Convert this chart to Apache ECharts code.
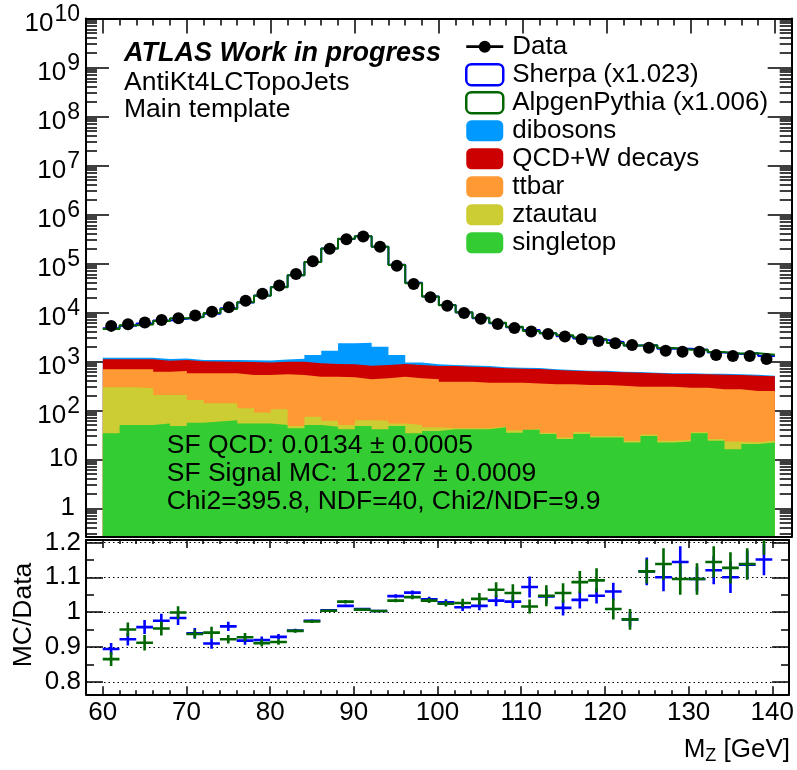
<!DOCTYPE html>
<html>
<head>
<meta charset="utf-8">
<script src="https://cdn.jsdelivr.net/npm/echarts@6/dist/echarts.min.js"></script>
<style>
  html, body { margin: 0; padding: 0; background: #fff; }
  #chart { width: 797px; height: 770px; }
</style>
</head>
<body>
<div id="chart"></div>
<script>
// Z -> ll invariant mass, 2 GeV bins from 60 to 140 GeV
const binCenters = [61, 63, 65, 67, 69, 71, 73, 75, 77, 79, 81, 83, 85, 87, 89, 91, 93, 95, 97, 99,
  101, 103, 105, 107, 109, 111, 113, 115, 117, 119, 121, 123, 125, 127, 129, 131, 133, 135, 137, 139];

// Observed events per bin
const dataCounts = [5300, 5750, 6200, 6980, 7570, 8600, 10300, 12700, 17300, 24000, 35500, 60800, 110000, 200000,
  310000, 355000, 219000, 89800, 37900, 20300, 13700, 9750, 7450, 5790, 4800, 4080, 3600, 3220, 2820, 2600,
  2340, 2160, 1900, 1650, 1575, 1575, 1349, 1287, 1287, 1117];

// Background processes (events per bin), stacked bottom to top
const singletop = [34, 50, 50, 54, 48, 56, 59, 63, 54, 54, 50, 43, 50, 46, 41, 48, 41, 48, 34, 38,
  41, 41, 41, 45, 35, 40, 33, 26, 33, 28, 28, 22, 30, 22, 23, 34, 24, 16, 20.5, 22];
const ztautau = [261, 245, 231, 152, 158, 107, 80, 76, 56, 36, 55, 5, 24, 15, 9, 15, 20, 6, 16, 7,
  2, 2, 2, 2, 4, 2, 2, 2, 3, 2, 2, 2, 2, 2, 2, 2, 2, 7, 2, 2];
const ttbar = [392, 392, 406, 410, 430, 407, 431, 431, 417, 437, 438, 479, 413, 426, 422, 367, 390, 433, 401, 385,
  342, 342, 324, 320, 328, 313, 305, 312, 293, 299, 288, 280, 272, 280, 265, 254, 243, 246, 225, 224];
const qcdW = [412, 412, 412, 417, 430, 431, 420, 415, 443, 423, 442, 459, 425, 396, 397, 387, 392, 396, 392, 374,
  419, 394, 393, 354, 343, 343, 326, 306, 297, 287, 279, 284, 266, 248, 262, 253, 266, 258, 262, 249];
const dibosons = [90, 85, 80, 80, 75, 70, 75, 80, 85, 90, 110, 150, 440, 770, 1460, 1590, 1150, 470, 100, 65,
  39, 40, 40, 36, 34, 34, 21, 20, 20, 30, 19, 18, 18, 18, 18, 18, 26, 16, 25, 13];

// MC / Data ratios and their uncertainties
const ratioSherpa = [0.894, 0.922, 0.957, 0.975, 0.983, 0.939, 0.910, 0.959, 0.918, 0.920, 0.929, 0.947, 0.975, 1.005,
  1.018, 1.009, 1.003, 1.046, 1.056, 1.037, 1.028, 1.014, 1.018, 1.033, 1.030, 1.072, 1.045, 1.012, 1.035, 1.047,
  1.059, 0.979, 1.117, 1.100, 1.144, 1.095, 1.120, 1.100, 1.136, 1.151];
const errSherpa = [0.017, 0.018, 0.020, 0.020, 0.020, 0.015, 0.015, 0.013, 0.012, 0.010, 0.008, 0.005, 0.004, 0.003,
  0.003, 0.003, 0.003, 0.005, 0.006, 0.007, 0.009, 0.011, 0.013, 0.016, 0.018, 0.030, 0.020, 0.022, 0.025, 0.022,
  0.025, 0.020, 0.040, 0.040, 0.045, 0.035, 0.040, 0.045, 0.040, 0.045];
const ratioAlpgen = [0.865, 0.950, 0.912, 0.953, 0.999, 0.937, 0.941, 0.922, 0.928, 0.911, 0.914, 0.946, 0.973, 1.004,
  1.030, 1.007, 1.003, 1.033, 1.043, 1.033, 1.024, 1.026, 1.038, 1.064, 1.055, 1.016, 1.047, 1.055, 1.086, 1.091,
  1.009, 0.979, 1.117, 1.138, 1.095, 1.095, 1.144, 1.127, 1.138, 1.215];
const errAlpgen = [0.020, 0.020, 0.022, 0.020, 0.018, 0.013, 0.017, 0.012, 0.012, 0.010, 0.008, 0.005, 0.004, 0.003,
  0.005, 0.003, 0.003, 0.005, 0.006, 0.007, 0.008, 0.012, 0.017, 0.022, 0.025, 0.020, 0.030, 0.028, 0.032, 0.035,
  0.030, 0.030, 0.035, 0.045, 0.045, 0.045, 0.045, 0.045, 0.045, 0.050];

// Axis tick labels
const massTicks = [60, 70, 80, 90, 100, 110, 120, 130, 140];
const logTicks = [1, 10, 1e2, 1e3, 1e4, 1e5, 1e6, 1e7, 1e8, 1e9, 1e10];
const ratioTicks = [0.8, 0.9, 1, 1.1, 1.2];
const ratioMinorTicks = [0.85, 0.95, 1.05, 1.15];

const FONT = '"Liberation Sans", Arial, Helvetica, sans-serif';
const HALF_BIN = 1;
const X_MIN = 58, X_MAX = 142;
const Y_MIN = 0.263, Y_MAX = 1e10;
const R_MIN = 0.764, R_MAX = 1.207;

const COLORS = {
  singletop: '#33cc33', ztautau: '#cccc33', ttbar: '#ff9933', qcd: '#cc0000', dibosons: '#0099ff',
  sherpa: '#0000ff', alpgen: '#006600'
};

// histogram outline as step points over bin edges
function stepPoints(values) {
  const pts = [];
  values.forEach((v, i) => {
    pts.push([binCenters[i] - HALF_BIN, v]);
    pts.push([binCenters[i] + HALF_BIN, v]);
  });
  return pts;
}

// cumulative stack heights
const layers = [singletop, ztautau, ttbar, qcdW, dibosons];
const cumulative = [];
layers.forEach((layer, k) => {
  cumulative.push(layer.map((v, i) => v + (k ? cumulative[k - 1][i] : 0)));
});

const mcSherpa = dataCounts.map((d, i) => d * ratioSherpa[i]);
const mcAlpgen = dataCounts.map((d, i) => d * ratioAlpgen[i]);

// minor tick positions
const massMinor = [];
for (let m = 60; m <= 140; m += 2) massMinor.push(m);
const logMinor = [];
for (let n = -1; n <= 9; n++) {
  for (let m = 2; m <= 9; m++) {
    const v = m * Math.pow(10, n);
    if (v > Y_MIN && v < Y_MAX) logMinor.push(v);
  }
}

const tickStyle = { color: '#000', width: 1.5 };
const lineStyle = { color: '#000', width: 2 };

function xAx(grid, position, ticks, len, showLine, extra) {
  return Object.assign({
    type: 'value', gridIndex: grid, position: position, min: X_MIN, max: X_MAX,
    axisLine: { show: showLine, onZero: false, lineStyle: lineStyle },
    axisTick: { show: !!ticks, inside: true, length: len, customValues: ticks || undefined, lineStyle: tickStyle },
    axisLabel: { show: false },
    splitLine: { show: false }
  }, extra || {});
}
function yAx(grid, type, position, min, max, ticks, len, showLine, extra) {
  return Object.assign({
    type: type, gridIndex: grid, position: position, min: min, max: max,
    axisLine: { show: showLine, onZero: false, lineStyle: lineStyle },
    axisTick: { show: true, inside: true, length: len, customValues: ticks, lineStyle: tickStyle },
    axisLabel: { show: false },
    splitLine: { show: false }
  }, extra || {});
}

const xAxes = [
  // upper pad
  xAx(0, 'bottom', null, 0, true, { z: 5 }),
  xAx(0, 'top', massTicks, 15, true),
  xAx(0, 'top', massMinor, 7, false),
  // ratio pad
  xAx(1, 'bottom', massTicks, 8, true, {
    axisLabel: {
      show: true, customValues: massTicks, margin: 6, fontSize: 26, fontFamily: FONT, color: '#000'
    }
  }),
  xAx(1, 'bottom', massMinor, 4, false),
  xAx(1, 'top', massTicks, 8, true),
  xAx(1, 'top', massMinor, 4, false)
];

const yAxes = [
  // upper pad, logarithmic
  yAx(0, 'log', 'left', Y_MIN, Y_MAX, logTicks, 23, true, {
    axisLabel: {
      show: true, customValues: logTicks, margin: 6, fontFamily: FONT, color: '#000', fontSize: 26,
      formatter: function (v) {
        const n = Math.round(Math.log10(v));
        if (n === 0) return '{p|1}';
        if (n === 1) return '{q|10}';
        return '{b|10}{e|' + n + '}';
      },
      rich: {
        p: { fontSize: 26, fontFamily: FONT, color: '#000', padding: [0, 5, 0, 0] },
        q: { fontSize: 26, fontFamily: FONT, color: '#000', padding: [0, 2, 0, 0] },
        b: { fontSize: 26, fontFamily: FONT, color: '#000', padding: [10, 0, 0, 0] },
        e: { fontSize: 23, fontFamily: FONT, color: '#000', padding: [0, 0, 7, 1] }
      }
    }
  }),
  yAx(0, 'log', 'left', Y_MIN, Y_MAX, logMinor, 11, false),
  yAx(0, 'log', 'right', Y_MIN, Y_MAX, logTicks, 24, true),
  yAx(0, 'log', 'right', Y_MIN, Y_MAX, logMinor, 12, false),
  // ratio pad
  yAx(1, 'value', 'left', R_MIN, R_MAX, ratioTicks, 17, true, {
    axisLabel: {
      show: true, customValues: ratioTicks, margin: 5, fontSize: 26, fontFamily: FONT, color: '#000',
      formatter: v => String(+(+v).toFixed(2))
    },
    splitLine: { show: true, lineStyle: { color: '#000', width: 1, type: [1.5, 3] } }
  }),
  yAx(1, 'value', 'left', R_MIN, R_MAX, ratioMinorTicks, 8, false),
  yAx(1, 'value', 'right', R_MIN, R_MAX, ratioTicks, 17, true),
  yAx(1, 'value', 'right', R_MIN, R_MAX, ratioMinorTicks, 8, false)
];

// stacked backgrounds: each area covers everything below its cumulative top
const stackNames = ['singletop', 'ztautau', 'ttbar', 'QCD+W decays', 'dibosons'];
const stackColors = [COLORS.singletop, COLORS.ztautau, COLORS.ttbar, COLORS.qcd, COLORS.dibosons];
const stackSeries = [];
for (let k = layers.length - 1; k >= 0; k--) {
  stackSeries.push({
    name: stackNames[k], type: 'line', xAxisIndex: 0, yAxisIndex: 0,
    data: stepPoints(cumulative[k]), showSymbol: false, symbol: 'none', silent: true,
    color: stackColors[k],
    lineStyle: { width: 0, color: stackColors[k] },
    areaStyle: { color: stackColors[k], opacity: 1, origin: 'start' },
    z: 1
  });
}

function crossSeries(name, ratio, err, color, z) {
  return {
    name: name + ' ratio', type: 'custom', xAxisIndex: 3, yAxisIndex: 4, clip: true, silent: true, z: z,
    data: binCenters.map((c, i) => [c, ratio[i], err[i]]),
    renderItem: function (params, api) {
      const x = api.value(0), r = api.value(1), e = api.value(2);
      const pl = api.coord([x - HALF_BIN, r]), pr = api.coord([x + HALF_BIN, r]);
      const pt = api.coord([x, r + e]), pb = api.coord([x, r - e]);
      const st = { stroke: color, lineWidth: 2.6 };
      return {
        type: 'group', children: [
          { type: 'line', shape: { x1: pl[0], y1: pl[1], x2: pr[0], y2: pr[1] }, style: st },
          { type: 'line', shape: { x1: pt[0], y1: pt[1], x2: pb[0], y2: pb[1] }, style: st }
        ]
      };
    }
  };
}

const series = stackSeries.concat([
  {
    name: 'Sherpa (x1.023)', type: 'line', xAxisIndex: 0, yAxisIndex: 0, data: stepPoints(mcSherpa),
    showSymbol: false, symbol: 'none', color: COLORS.sherpa, lineStyle: { width: 2, color: COLORS.sherpa }, z: 3
  },
  {
    name: 'AlpgenPythia (x1.006)', type: 'line', xAxisIndex: 0, yAxisIndex: 0, data: stepPoints(mcAlpgen),
    showSymbol: false, symbol: 'none', color: COLORS.alpgen, lineStyle: { width: 2, color: COLORS.alpgen }, z: 4
  },
  {
    name: 'Data', type: 'scatter', xAxisIndex: 0, yAxisIndex: 0,
    data: binCenters.map((c, i) => [c, dataCounts[i]]),
    symbol: 'circle', symbolSize: 12, itemStyle: { color: '#000', opacity: 1 }, color: '#000', z: 6
  },
  crossSeries('Sherpa', ratioSherpa, errSherpa, COLORS.sherpa, 3),
  crossSeries('AlpgenPythia', ratioAlpgen, errAlpgen, COLORS.alpgen, 4)
]);

const legendBox = c => ({ color: c, borderWidth: 0 });
const TEXT_FONT = '26.5px ' + FONT;
const option = {
  animation: false,
  backgroundColor: '#fff',
  grid: [
    { left: 86, right: 5.3, top: 18.5, height: 518.2 },
    { left: 86, right: 5.3, top: 540, height: 154.3 }
  ],
  xAxis: xAxes,
  yAxis: yAxes,
  legend: {
    orient: 'vertical', left: 465, top: 32.7, padding: 0, itemWidth: 37, itemHeight: 21, itemGap: 0,
    selectedMode: false,
    textStyle: { fontSize: 26, fontFamily: FONT, color: '#000', lineHeight: 28, padding: [0, 0, 0, 4] },
    data: [
      { name: 'Data', icon: 'path://M0,9.6 L37,9.6 L37,12.4 L0,12.4 Z M12.5,11 A6,6 0 0,1 24.5,11 A6,6 0 0,1 12.5,11 Z',
        itemStyle: { color: '#000', opacity: 1 } },
      { name: 'Sherpa (x1.023)', icon: 'roundRect', itemStyle: { color: '#fff', borderColor: COLORS.sherpa, borderWidth: 2.5 } },
      { name: 'AlpgenPythia (x1.006)', icon: 'roundRect', itemStyle: { color: '#fff', borderColor: COLORS.alpgen, borderWidth: 2.5 } },
      { name: 'dibosons', icon: 'roundRect', itemStyle: legendBox(COLORS.dibosons) },
      { name: 'QCD+W decays', icon: 'roundRect', itemStyle: legendBox(COLORS.qcd) },
      { name: 'ttbar', icon: 'roundRect', itemStyle: legendBox(COLORS.ttbar) },
      { name: 'ztautau', icon: 'roundRect', itemStyle: legendBox(COLORS.ztautau) },
      { name: 'singletop', icon: 'roundRect', itemStyle: legendBox(COLORS.singletop) }
    ]
  },
  graphic: [
    { type: 'text', x: 124, y: 54, z: 100,
      style: { text: 'ATLAS Work in progress', font: 'italic bold 27px ' + FONT, fill: '#000', verticalAlign: 'middle' } },
    { type: 'text', x: 124, y: 82.3, z: 100,
      style: { text: 'AntiKt4LCTopoJets', font: TEXT_FONT, fill: '#000', verticalAlign: 'middle' } },
    { type: 'text', x: 124, y: 110, z: 100,
      style: { text: 'Main template', font: TEXT_FONT, fill: '#000', verticalAlign: 'middle' } },
    { type: 'text', x: 166.7, y: 445.8, z: 100,
      style: { text: 'SF QCD: 0.0134 \u00b1 0.0005', font: TEXT_FONT, fill: '#000', verticalAlign: 'middle' } },
    { type: 'text', x: 166.7, y: 473.5, z: 100,
      style: { text: 'SF Signal MC: 1.0227 \u00b1 0.0009', font: TEXT_FONT, fill: '#000', verticalAlign: 'middle' } },
    { type: 'text', x: 166.7, y: 501.3, z: 100,
      style: { text: 'Chi2=395.8, NDF=40, Chi2/NDF=9.9', font: TEXT_FONT, fill: '#000', verticalAlign: 'middle' } },
    { type: 'text', x: 23.3, y: 615, rotation: Math.PI / 2, z: 100,
      style: { text: 'MC/Data', font: TEXT_FONT, fill: '#000', align: 'center', verticalAlign: 'middle' } },
    { type: 'text', x: 790, y: 750, z: 100,
      style: {
        text: '{m|M}{s|Z}{m| [GeV]}', align: 'right', verticalAlign: 'middle',
        rich: {
          m: { fontSize: 26, fontFamily: FONT, fill: '#000' },
          s: { fontSize: 18, fontFamily: FONT, fill: '#000', padding: [12, 0, 0, 0] }
        }
      } }
  ],
  series: series
};

const chart = echarts.init(document.getElementById('chart'));
chart.setOption(option);
</script>
</body>
</html>
